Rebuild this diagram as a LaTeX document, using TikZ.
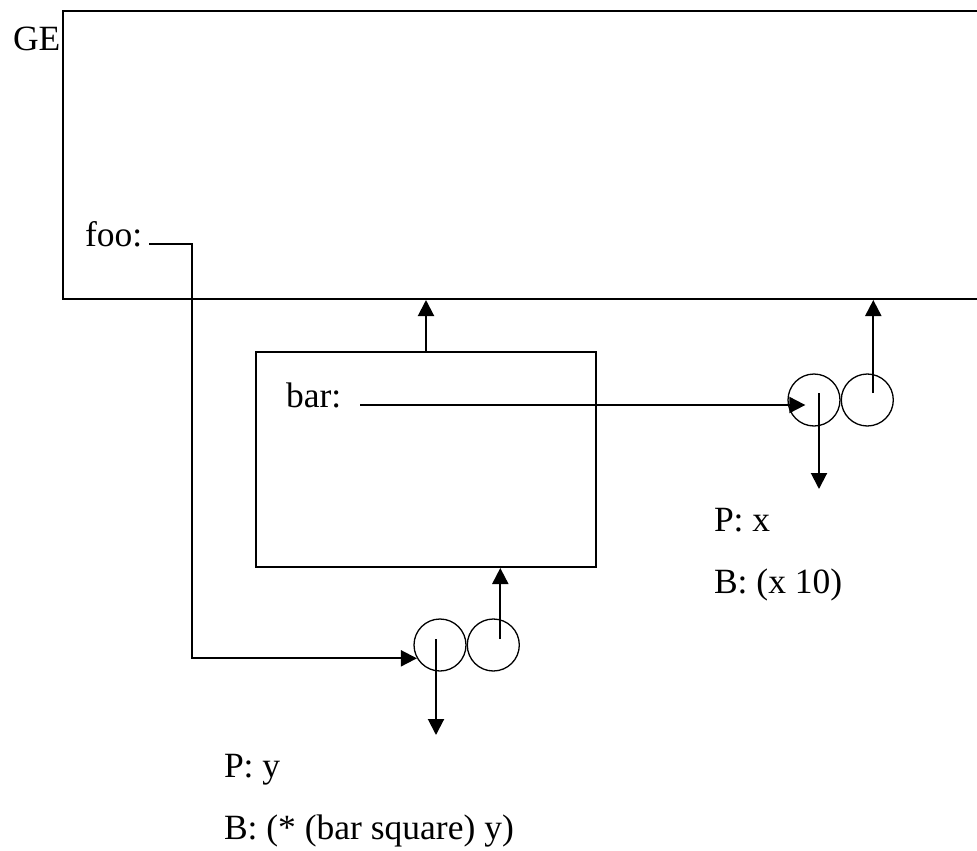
\documentclass[tikz,border=0pt]{standalone}
\usepackage{fontspec}
\setmainfont{Liberation Serif}
\usetikzlibrary{positioning,arrows.meta}
\begin{document}
\begin{tikzpicture}[x=1pt, y=-1pt, line width=2pt,
    every node/.style={font=\fontsize{35.5}{42}\selectfont, inner sep=0pt},
    frame/.style={draw, anchor=north west},
    ring/.style={draw, circle, line width=1.3pt, minimum size=52pt},
    arr/.style={-{Triangle[length=16pt, width=16pt]}}]
    \useasboundingbox (0,0) rectangle (977,851);
    \node[frame, minimum width=960pt, minimum height=288pt] (ge) at (62,10) {};
    \node[frame, minimum width=340pt, minimum height=215pt] (barbox) at (255,351) {};
    \node[anchor=base west] (gelbl) at (12,51) {GE};
    \node[anchor=mid west] (foo) at (84,244) {foo:};
    \node[anchor=mid west] (bar) at (285,405) {bar:};
    \node[ring] (xl) at (814,400) {};
    \node[ring, right=0pt of xl] (xr) {};
    \node[ring] (yl) at (440,645) {};
    \node[ring, right=0pt of yl] (yr) {};
    \node[anchor=base west] (px) at (713,531) {P: x};
    \node[anchor=base west] (bx) at (713,593) {B: (x 10)};
    \node[anchor=base west] (py) at (223,777) {P: y};
    \node[anchor=base west] (by) at (223,839) {B: (* (bar square) y)};
    \coordinate (xup) at ([shift={(6,-7)}]xr.center);
    \coordinate (yup) at ([shift={(7,-6)}]yr.center);
    \draw[arr] ([xshift=6pt]foo.mid east) -- ++(43,0) |- (yl.210);
    \draw[arr] ([xshift=18pt]bar.mid east) -- ([xshift=18pt]bar.mid east -| xl.west);
    \draw[arr] ([shift={(5,-7)}]xl.center) -- ++(0,96);
    \draw[arr] ([shift={(-4,-6)}]yl.center) -- ++(0,96);
    \draw[arr] (xup) -- (xup |- ge.south);
    \draw[arr] (yup) -- (yup |- barbox.south);
    \draw[arr] (barbox.north) -- (barbox.north |- ge.south);
\end{tikzpicture}
\end{document}
